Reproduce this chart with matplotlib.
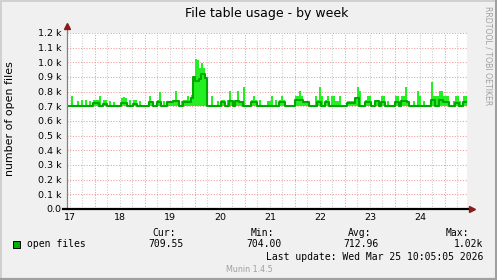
import matplotlib
matplotlib.use("Agg")
import matplotlib.pyplot as plt
from matplotlib.patches import Rectangle
from matplotlib.lines import Line2D
import numpy as np

# ---------------- data ----------------
title = "File table usage - by week"
y_label = "number of open files"
series_name = "open files"
start_day = 16.94      # left edge of time axis (day-of-month units, label at noon)
step_days = 0.04       # sample spacing

max_vals = [
    705, 705, 770, 705, 705, 738, 705, 740, 705, 740,
    705, 733, 705, 745, 740, 745, 770, 705, 740, 740,
    705, 733, 705, 728, 705, 705, 705, 760, 765, 760,
    705, 745, 705, 745, 745, 705, 735, 705, 705, 705,
    705, 770, 735, 705, 705, 740, 800, 705, 735, 705,
    738, 738, 738, 740, 805, 740, 705, 735, 740, 740,
    770, 740, 780, 910, 1022, 1015, 960, 995, 960, 900,
    705, 705, 770, 705, 705, 733, 705, 740, 740, 705,
    740, 806, 745, 705, 740, 806, 735, 735, 834, 705,
    705, 705, 740, 770, 740, 705, 740, 705, 705, 705,
    738, 738, 770, 705, 740, 705, 740, 770, 740, 705,
    705, 705, 705, 705, 770, 770, 806, 770, 738, 738,
    738, 705, 705, 705, 770, 740, 834, 770, 705, 740,
    770, 705, 770, 770, 738, 738, 770, 705, 705, 705,
    738, 738, 738, 738, 760, 834, 806, 705, 705, 740,
    770, 770, 705, 705, 738, 738, 705, 770, 770, 705,
    738, 705, 705, 705, 770, 770, 705, 770, 770, 834,
    738, 705, 705, 738, 705, 806, 770, 705, 738, 705,
    705, 705, 868, 770, 770, 770, 806, 806, 770, 770,
    770, 705, 705, 738, 770, 770, 738, 705, 770, 770,
]

avg_vals = [
    705, 705, 705, 705, 705, 705, 705, 705, 705, 705,
    705, 705, 705, 722, 722, 722, 705, 705, 714, 714,
    705, 705, 705, 705, 705, 705, 705, 720, 720, 720,
    705, 705, 705, 714, 714, 705, 705, 705, 705, 705,
    705, 728, 728, 705, 705, 730, 730, 705, 705, 705,
    728, 728, 728, 735, 735, 735, 705, 705, 728, 728,
    728, 728, 760, 900, 870, 870, 885, 920, 922, 890,
    705, 705, 705, 705, 705, 705, 705, 728, 728, 705,
    705, 738, 738, 705, 738, 738, 728, 728, 705, 705,
    705, 705, 728, 728, 728, 705, 705, 705, 705, 705,
    705, 705, 705, 705, 705, 705, 728, 728, 728, 705,
    705, 705, 705, 705, 740, 740, 740, 740, 728, 728,
    728, 705, 705, 705, 705, 728, 728, 705, 705, 728,
    728, 705, 705, 705, 705, 705, 705, 705, 705, 705,
    722, 722, 722, 722, 755, 755, 705, 705, 705, 728,
    728, 728, 705, 705, 738, 738, 705, 728, 728, 705,
    705, 705, 705, 705, 728, 728, 705, 733, 733, 738,
    730, 705, 705, 705, 705, 705, 705, 705, 705, 705,
    705, 705, 740, 740, 705, 705, 740, 740, 728, 728,
    728, 705, 705, 705, 722, 722, 705, 705, 728, 728,
]

y_ticks = [0, 100, 200, 300, 400, 500, 600, 700, 800, 900, 1000, 1100, 1200]
y_tick_labels = ["0.0", "0.1 k", "0.2 k", "0.3 k", "0.4 k", "0.5 k", "0.6 k",
                 "0.7 k", "0.8 k", "0.9 k", "1.0 k", "1.1 k", "1.2 k"]
x_days = [17, 18, 19, 20, 21, 22, 23, 24]
x_day_labels = ["17", "18", "19", "20", "21", "22", "23", "24"]

stat_headers = ["Cur:", "Min:", "Avg:", "Max:"]
stat_values = ["709.55", "704.00", "712.96", "1.02k"]
last_update = "Last update: Wed Mar 25 10:05:05 2026"
footer = "Munin 1.4.5"
side_text = "RRDTOOL / TOBI OETIKER"

# ---------------- figure ----------------
W, H = 497, 280
fig = plt.figure(figsize=(W / 100, H / 100), dpi=100)
fig.patch.set_facecolor("#f0f0f0")

def fx(px):
    return px / W

def fy(py):
    return 1 - py / H

# 3D frame
fig.add_artist(Line2D([fx(0.5), fx(0.5)], [0, 1], color="#d0d0d0", lw=1.4,
                      transform=fig.transFigure))
fig.add_artist(Line2D([0, 1], [fy(0.5), fy(0.5)], color="#d0d0d0", lw=1.4,
                      transform=fig.transFigure))
fig.add_artist(Line2D([fx(495.5), fx(495.5)], [0, 1], color="#a0a0a0", lw=2.2,
                      transform=fig.transFigure))
fig.add_artist(Line2D([0, 1], [fy(279), fy(279)], color="#a0a0a0", lw=1.6,
                      transform=fig.transFigure))

ax_l, ax_t, ax_r, ax_b = 67, 33, 467, 209
ax = fig.add_axes([fx(ax_l), fy(ax_b), (ax_r - ax_l) / W, (ax_b - ax_t) / H])
ax.set_facecolor("white")

x0 = start_day
x1 = start_day + step_days * len(avg_vals)
ax.set_xlim(x0, x1)
ax.set_ylim(0, 1200)

# grid
dot = (0, (1, 1.6))
for yv in y_ticks[1:]:
    ax.axhline(yv, color="#f09a9a", lw=0.75, linestyle=dot, zorder=1)
minor = np.arange(17.0, 25.0, 0.25)
for xv in minor:
    if abs(xv - round(xv - 0.5) - 0.5) < 1e-6:
        ax.axvline(xv, color="#f09a9a", lw=0.75, linestyle=dot, zorder=1)
    else:
        ax.axvline(xv, color="#c8c8c8", lw=0.75, linestyle=dot, zorder=1)

# data
xs = start_day + step_days * np.arange(len(avg_vals))
mv = np.array(max_vals)
widths = np.where(mv > 850, step_days, step_days * 0.6)
ax.bar(xs + step_days / 2, mv - 700, bottom=700, width=widths,
       color="#22f022", linewidth=0, zorder=2, antialiased=False)
ax.step(np.append(xs, x1), np.append(avg_vals, avg_vals[-1]), where="post",
        color="#00a800", lw=1.5, zorder=3)

# axes lines & arrows
for s in ax.spines.values():
    s.set_visible(False)
ax.plot([x0, x0], [0, 1240], color="#808080", lw=0.9, clip_on=False, zorder=4)
ax.plot([x0 - 0.08, x1 + 0.08], [0, 0], color="black", lw=1.6, clip_on=False, zorder=4)
ax.plot([x0], [1250], marker="^", color="#8b1a1a", markersize=4.5, clip_on=False, zorder=5)
ax.plot([x1 + 0.1], [0], marker=">", color="#8b1a1a", markersize=4.5, clip_on=False, zorder=5)

ax.set_yticks(y_ticks)
ax.set_yticklabels(y_tick_labels)
ax.set_xticks(x_days)
ax.set_xticklabels(x_day_labels)
ax.tick_params(axis="y", length=0, pad=4.0, labelsize=6.8, colors="black")
ax.tick_params(axis="x", length=0, pad=3.0, labelsize=6.8, colors="black")

# texts
fig.text(fx(267), fy(14), title, ha="center", va="center", fontsize=9)
fig.text(fx(10), fy(119), y_label, rotation=90, ha="center", va="center", fontsize=7.9)
fig.text(fx(488), fy(56), side_text, rotation=270, ha="center", va="center",
         fontsize=5.6, color="#a0a0a0")

mono = "DejaVu Sans Mono"
fig.add_artist(Rectangle((fx(13), fy(247.5)), 7 / W, 7 / H, transform=fig.transFigure,
                         facecolor="#00b000", edgecolor="black", lw=0.7))
fig.text(fx(27), fy(244), series_name, ha="left", va="center", fontsize=7, family=mono)
hdr_x = [176, 274, 371, 469]
val_x = [184, 282, 379, 483]
for h, hx in zip(stat_headers, hdr_x):
    fig.text(fx(hx), fy(232.5), h, ha="right", va="center", fontsize=7, family=mono)
for v, vx in zip(stat_values, val_x):
    fig.text(fx(vx), fy(244), v, ha="right", va="center", fontsize=7, family=mono)
fig.text(fx(483), fy(256.5), last_update, ha="right", va="center", fontsize=7, family=mono)
fig.text(fx(249), fy(269), footer, ha="center", va="center", fontsize=5.8, color="#a0a0a0")

fig.savefig("out.png", dpi=100, facecolor=fig.get_facecolor())
